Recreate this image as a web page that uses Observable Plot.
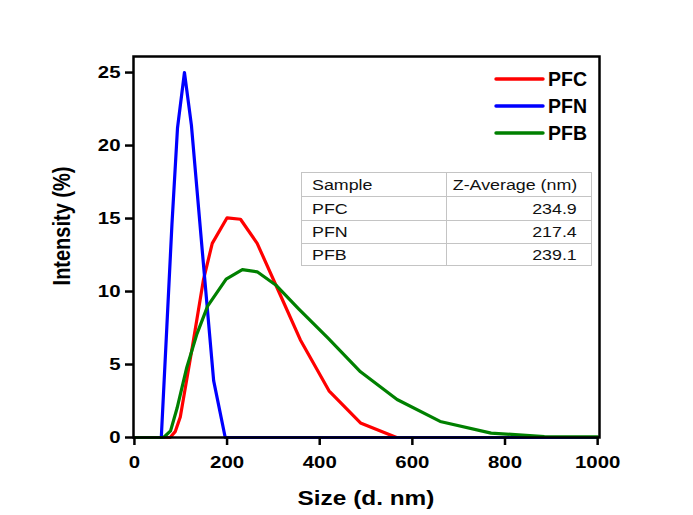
<!DOCTYPE html>
<html>
<head>
<meta charset="utf-8">
<script src="https://cdn.jsdelivr.net/npm/d3@7"></script>
<script src="https://cdn.jsdelivr.net/npm/@observablehq/plot@0.6"></script>
<style>
  html, body { margin: 0; padding: 0; background: #fff; }
  #wrap { position: relative; width: 693px; height: 515px; overflow: hidden; background: #fff; }
  #wrap svg { position: absolute; left: 0; top: 0; }
  table.zavg {
    position: absolute; left: 301px; top: 172px; width: 291px;
    border-collapse: collapse; border: 1.4px solid #333;
    font-family: "Liberation Sans", Arial, sans-serif; font-size: 15.5px; color: #111;
  }
  table.zavg td { border: 1px solid #c4c4c4; padding: 0; height: 22px; line-height: 22px; white-space: nowrap; overflow: visible; }
  table.zavg td.c1 { width: 134px; padding-left: 10px; }
  table.zavg td.c2 { text-align: right; padding-right: 14px; }
  table.zavg td span { display: inline-block; transform: scaleX(1.15); }
  table.zavg td.c1 span { transform-origin: left center; }
  table.zavg td.c2 span { transform-origin: right center; }
</style>
</head>
<body>
<div id="wrap"></div>
<script>
// ---- data ----
const pfcSize      = [0, 77, 88, 99, 125, 149, 168, 200, 229, 265, 313, 358, 420, 488, 566, 1000];
const pfcIntensity = [0, 0, 0.4, 1.4, 6.2, 10.8, 13.3, 15.05, 14.95, 13.3, 9.9, 6.7, 3.2, 1.0, 0, 0];

const pfnSize      = [0, 58, 70, 81, 93, 108, 123, 147, 171, 196, 1000];
const pfnIntensity = [0, 0, 7.6, 14.6, 21.2, 25.0, 21.4, 12.6, 3.9, 0, 0];

const pfbSize      = [0, 63, 78, 92, 113, 135, 158, 198, 233, 265, 305, 355, 418, 488, 567, 660, 770, 885, 1000];
const pfbIntensity = [0, 0, 0.45, 2.0, 4.8, 7.1, 9.0, 10.85, 11.5, 11.35, 10.45, 8.8, 6.8, 4.5, 2.6, 1.1, 0.3, 0.07, 0.04];

const seriesNames  = ["PFC", "PFN", "PFB"];
const seriesColors = ["#ff0000", "#0000ff", "#008000"];

const xTicks = [0, 200, 400, 600, 800, 1000];
const yTicks = [0, 5, 10, 15, 20, 25];

const tableHeader = ["Sample", "Z-Average (nm)"];
const sampleNames = ["PFC", "PFN", "PFB"];
const zAverages   = ["234.9", "217.4", "239.1"];

const xLabel = "Size (d. nm)";
const yLabel = "Intensity (%)";

// ---- build table for Plot ----
const toRows = (name, xs, ys) => xs.map((x, i) => ({series: name, size: x, intensity: ys[i]}));
const pfc = toRows("PFC", pfcSize, pfcIntensity);
const pfn = toRows("PFN", pfnSize, pfnIntensity);
const pfb = toRows("PFB", pfbSize, pfbIntensity);

const chart = Plot.plot({
  width: 693, height: 515,
  marginLeft: 133, marginRight: 94, marginTop: 56, marginBottom: 78,
  style: {fontFamily: "'Liberation Sans', Arial, sans-serif", fontSize: "17px", fontWeight: "bold", background: "white", color: "black"},
  x: {domain: [-2, 1004]},
  y: {domain: [0, 26.1]},
  color: {domain: seriesNames, range: seriesColors},
  marks: [
    Plot.line(pfc, {x: "size", y: "intensity", stroke: "series", strokeWidth: 3.2}),
    Plot.line(pfn, {x: "size", y: "intensity", stroke: "series", strokeWidth: 3.2}),
    Plot.line(pfb, {x: "size", y: "intensity", stroke: "series", strokeWidth: 3.2}),
    Plot.frame({stroke: "black", strokeWidth: 2.5}),
    Plot.axisX({ticks: xTicks, tickSize: 8, tickPadding: 10, strokeWidth: 2.5, label: null, tickFormat: d => String(d)}),
    Plot.axisY({ticks: yTicks, tickSize: 8, tickPadding: 5, strokeWidth: 2.5, label: null, tickFormat: d => String(d)})
  ]
});

document.getElementById("wrap").appendChild(chart);

// widen tick labels horizontally (reference text is stretched)
chart.querySelectorAll("text").forEach(t => {
  const tr = t.getAttribute("transform") || "";
  t.setAttribute("transform", (tr + " scale(1.2,1)").trim());
});

const svg = d3.select(chart);
// axis titles
svg.append("text")
  .attr("transform", "translate(366,505) scale(1.22,1)")
  .attr("text-anchor", "middle")
  .attr("font-size", 20).attr("font-weight", "bold")
  .text(xLabel);
svg.append("text")
  .attr("transform", "translate(70,226) scale(1.2,1) rotate(-90)")
  .attr("text-anchor", "middle")
  .attr("font-size", 20).attr("font-weight", "bold")
  .text(yLabel);

// legend
const legendY = [79, 106, 133];
seriesNames.forEach((name, i) => {
  svg.append("line")
    .attr("x1", 496).attr("x2", 543).attr("y1", legendY[i]).attr("y2", legendY[i])
    .attr("stroke", seriesColors[i]).attr("stroke-width", 3.4).attr("stroke-linecap", "round");
  svg.append("text")
    .attr("x", 548).attr("y", legendY[i] + 7)
    .attr("text-anchor", "start")
    .attr("font-size", 19.5).attr("font-weight", "bold")
    .text(name);
});

// summary table
const table = document.createElement("table");
table.className = "zavg";
const rows = [tableHeader].concat(sampleNames.map((s, i) => [s, zAverages[i]]));
const rowHeights = [23, 23, 22, 21];
rows.forEach((r, i) => {
  const tr = document.createElement("tr");
  r.forEach((c, j) => {
    const td = document.createElement("td");
    td.className = j === 0 ? "c1" : "c2";
    td.style.height = rowHeights[i] + "px";
    td.style.lineHeight = rowHeights[i] + "px";
    const sp = document.createElement("span");
    sp.textContent = c;
    td.appendChild(sp);
    tr.appendChild(td);
  });
  table.appendChild(tr);
});
document.getElementById("wrap").appendChild(table);
</script>
</body>
</html>
